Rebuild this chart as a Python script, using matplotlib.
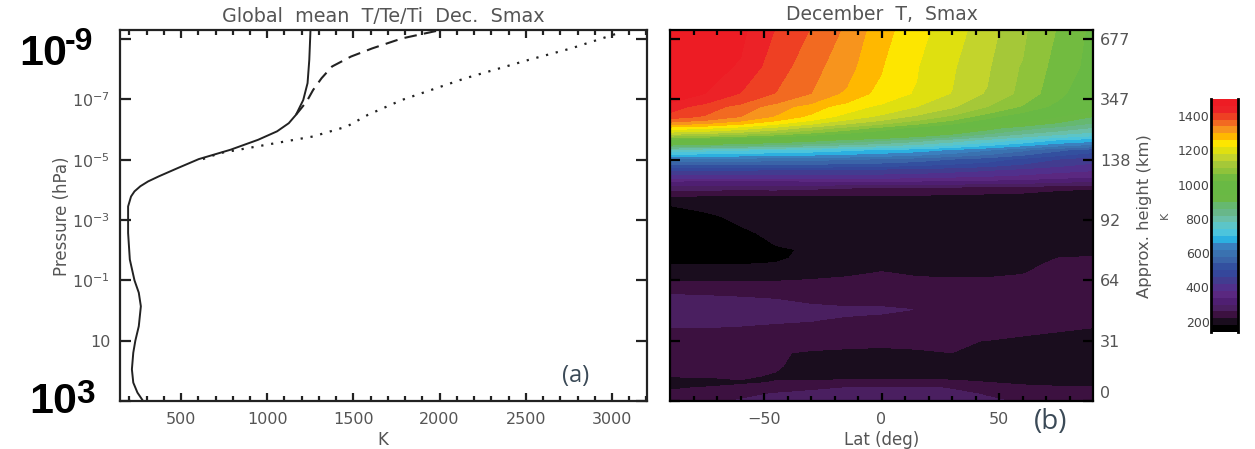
import numpy as np
import matplotlib
matplotlib.use("Agg")
import matplotlib.pyplot as plt
from matplotlib.colors import ListedColormap, BoundaryNorm
from matplotlib.cm import ScalarMappable

# ---------- panel (a) data ----------
solid_logp = [3.00, 2.72, 2.39, 1.95, 1.40, 1.00, 0.52, -0.14, -0.59, -1.00, -1.69, -2.57, -3.45, -3.78,
              -3.95, -4.12, -4.28, -4.45, -4.72, -5.02, -5.33, -5.66, -5.94, -6.21, -6.49, -6.98, -7.54,
              -8.31, -9.30]
solid_T = [280, 247, 223, 215, 223, 235, 255, 267, 255, 230, 203, 193, 193, 210,
           230, 264, 309, 372, 480, 603, 787, 947, 1057, 1125, 1167, 1209, 1234, 1244, 1251]
dashed_logp = [-6.49, -6.93, -7.31, -7.70, -8.09, -8.42, -8.69, -9.02, -9.28]
dashed_T = [1167, 1229, 1266, 1315, 1376, 1486, 1609, 1781, 1990]
dotted_logp = [-5.02, -5.22, -5.47, -5.77, -6.10, -6.49, -6.98, -7.70, -8.31, -8.69, -9.13, -9.24]
dotted_T = [627, 726, 971, 1266, 1462, 1585, 1781, 2149, 2517, 2763, 3001, 3057]

# ---------- panel (b) data ----------
lat = [-90, -75, -60, -45, -30, -15, 0, 15, 30, 45, 60, 75, 90]
level_logp = [-9.30, -8.09, -7.20, -6.76, -6.43, -6.05, -5.66, -5.33, -5.02, -4.67, -4.28, -4.06, -3.78,
              -3.48, -3.12, -2.57, -2.02, -1.74, -1.52, -1.25, -0.97, -0.53, -0.37, -0.03, 0.30, 0.57,
              1.01, 1.40, 1.84, 2.17, 2.39, 2.56, 2.78, 3.00]
T_map = [
    [1560, 1515, 1470, 1418, 1378, 1333, 1275, 1234, 1198, 1157, 1107, 1057, 1010],
    [1540, 1495, 1450, 1400, 1355, 1315, 1262, 1222, 1185, 1145, 1095, 1045, 1005],
    [1490, 1460, 1418, 1378, 1340, 1290, 1245, 1215, 1178, 1135, 1088, 1032, 985],
    [1440, 1400, 1365, 1320, 1280, 1240, 1210, 1180, 1145, 1100, 1055, 1005, 960],
    [1400, 1375, 1340, 1295, 1250, 1205, 1170, 1130, 1090, 1035, 985, 940, 900],
    [1240, 1225, 1200, 1165, 1125, 1085, 1045, 1005, 965, 915, 875, 845, 815],
    [1000, 985, 965, 945, 920, 895, 870, 840, 805, 770, 735, 700, 680],
    [770, 755, 745, 735, 725, 710, 695, 680, 655, 625, 590, 550, 520],
    [600, 600, 600, 595, 590, 585, 575, 560, 540, 520, 490, 460, 435],
    [465, 465, 465, 460, 460, 455, 450, 445, 435, 425, 410, 395, 385],
    [335, 330, 330, 330, 335, 335, 340, 335, 330, 325, 320, 310, 300],
    [275, 270, 270, 270, 265, 260, 255, 255, 245, 240, 235, 225, 222],
    [218, 215, 212, 214, 216, 215, 214, 212, 210, 208, 206, 204, 202],
    [180, 185, 190, 195, 200, 200, 200, 200, 200, 200, 200, 200, 200],
    [170, 175, 186, 195, 200, 200, 200, 200, 200, 200, 200, 200, 200],
    [165, 165, 172, 190, 198, 200, 200, 200, 200, 200, 200, 202, 202],
    [165, 165, 168, 174, 185, 198, 200, 200, 200, 200, 204, 212, 214],
    [170, 170, 172, 175, 188, 198, 200, 200, 200, 202, 208, 220, 222],
    [180, 180, 180, 183, 195, 203, 210, 206, 205, 208, 214, 225, 228],
    [205, 205, 205, 205, 208, 212, 222, 214, 212, 212, 218, 232, 235],
    [220, 220, 220, 220, 224, 232, 236, 230, 228, 228, 232, 240, 242],
    [260, 258, 255, 250, 245, 243, 240, 238, 238, 238, 238, 240, 242],
    [268, 268, 265, 260, 255, 250, 246, 242, 240, 240, 240, 240, 240],
    [272, 272, 272, 270, 268, 266, 268, 259, 245, 240, 240, 238, 238],
    [268, 268, 266, 264, 262, 256, 245, 240, 240, 238, 236, 234, 232],
    [260, 260, 258, 254, 250, 245, 240, 238, 236, 234, 230, 224, 220],
    [245, 245, 245, 240, 235, 230, 228, 226, 224, 219, 210, 205, 205],
    [238, 238, 236, 224, 215, 212, 210, 216, 220, 212, 205, 205, 205],
    [232, 232, 232, 224, 205, 205, 205, 205, 205, 205, 205, 205, 205],
    [222, 222, 226, 216, 205, 205, 205, 205, 205, 205, 205, 205, 205],
    [205, 208, 214, 222, 230, 234, 236, 236, 232, 221, 212, 210, 210],
    [216, 222, 232, 245, 254, 260, 264, 264, 258, 245, 232, 225, 225],
    [230, 236, 250, 264, 270, 272, 274, 274, 268, 258, 248, 236, 234],
    [236, 250, 264, 272, 276, 276, 278, 278, 274, 266, 256, 244, 240],
]
band_edges = list(range(140, 1501, 40))
band_colors = ["#000000", "#1a0d1e", "#3c1140", "#4a1f60", "#4f1f72", "#5a2880", "#51308c", "#423c90",
               "#35479b", "#33509f", "#3a64a8", "#3a72b0", "#3a80bf", "#2cb0e0", "#4cc4dc", "#5cc5c8",
               "#6abfa8", "#68b78a", "#66b870", "#6bb845", "#69b944", "#69b944", "#72bb40", "#8fc33a",
               "#a5c838", "#c3d42c", "#dfe010", "#fde600", "#ffb800", "#f7941d", "#f26a21", "#ee4023",
               "#ec2227", "#ed1c24"]

# ---------- tick labels ----------
left_yticks = [1e-9, 1e-7, 1e-5, 1e-3, 1e-1, 1e1, 1e3]
left_ylabels = ["", r"$10^{-7}$", r"$10^{-5}$", r"$10^{-3}$", r"$10^{-1}$", "10", ""]
height_labels = ["677", "347", "138", "92", "64", "31", "0"]
cbar_ticks = [200, 400, 600, 800, 1000, 1200, 1400]

W, H = 1255, 449
INK = "#222222"
TXT = "#555555"
LW = 1.6


def axpx(x0, y0, x1, y1):
    return fig.add_axes([x0 / W, 1 - y1 / H, (x1 - x0) / W, (y1 - y0) / H])


def txt(x, y, s, **kw):
    kw.setdefault("color", TXT)
    kw.setdefault("ha", "center")
    kw.setdefault("va", "center")
    fig.text(x / W, 1 - y / H, s, **kw)


fig = plt.figure(figsize=(W / 100, H / 100), dpi=100)
plt.rcParams["mathtext.default"] = "regular"

YLIM = (10 ** 3.0, 10 ** -9.3)

# ---- panel (a) ----
a = axpx(120, 30, 647, 401)
a.set_yscale("log")
a.plot(dotted_T, 10.0 ** np.array(dotted_logp), color=INK, lw=1.6, ls=(0, (1, 3.5)))
a.plot(dashed_T, 10.0 ** np.array(dashed_logp), color=INK, lw=1.5, ls=(0, (6, 3.5)))
a.plot(solid_T, 10.0 ** np.array(solid_logp), color=INK, lw=1.4)
a.set_xlim(146, 3203)
a.set_ylim(*YLIM)
a.set_xticks([500, 1000, 1500, 2000, 2500, 3000])
a.set_xticks(np.arange(200, 3201, 100), minor=True)
a.set_yticks(left_yticks)
a.set_yticklabels(left_ylabels)
a.yaxis.set_minor_locator(plt.NullLocator())
a.yaxis.set_minor_formatter(plt.NullFormatter())
a.tick_params(axis="x", which="major", direction="in", top=True, length=5.5, width=LW, color=INK,
              labelsize=11.5, labelcolor=TXT, pad=8)
a.tick_params(axis="x", which="minor", direction="in", top=True, length=3.5, width=LW, color=INK)
a.tick_params(axis="y", which="major", direction="in", right=True, length=8, width=LW, color=INK,
              labelsize=11.5, labelcolor=TXT, pad=7)
for s in a.spines.values():
    s.set_linewidth(LW)
    s.set_color(INK)

# ---- panel (b) ----
cmap = ListedColormap(band_colors)
cmap.set_over(band_colors[-1])
cmap.set_under(band_colors[0])
norm = BoundaryNorm(band_edges, ncolors=len(band_colors))
b = axpx(670, 30, 1093, 401)
b.set_yscale("log")
b.contourf(lat, 10.0 ** np.array(level_logp), np.array(T_map), levels=band_edges, cmap=cmap, norm=norm,
           extend="both", antialiased=False)
b.set_xlim(-90, 90)
b.set_ylim(*YLIM)
b.set_xticks([-50, 0, 50])
b.set_xticklabels(["\u221250", "0", "50"])
b.set_xticks(np.arange(-80, 90, 10), minor=True)
b.set_yticks(left_yticks)
b.set_yticklabels(height_labels)
b.yaxis.set_minor_locator(plt.NullLocator())
b.yaxis.set_minor_formatter(plt.NullFormatter())
b.yaxis.tick_right()
b.tick_params(axis="x", which="major", direction="in", top=True, length=5.5, width=LW, color="black",
              labelsize=11.5, labelcolor=TXT, pad=8)
b.tick_params(axis="x", which="minor", direction="in", top=True, length=3.5, width=LW, color="black")
b.tick_params(axis="y", which="major", direction="in", left=True, right=True, length=7, width=LW,
              color="black", labelsize=11.5, labelcolor=TXT, pad=5)
b.get_yticklabels()[-1].set_va("bottom")
for s in b.spines.values():
    s.set_linewidth(LW)
    s.set_color("black")

# ---- colour bar ----
c = axpx(1211, 99, 1238, 332)
cb = fig.colorbar(ScalarMappable(norm=norm, cmap=cmap), cax=c, ticks=cbar_ticks, spacing="proportional",
                  drawedges=False)
c.yaxis.set_ticks_position("left")
c.tick_params(axis="y", which="both", length=0, labelsize=9, labelcolor="#444444", pad=1)
c.minorticks_off()
cb.outline.set_visible(False)
c.axvline(0, color="black", lw=2, clip_on=False)
c.axvline(1, color="black", lw=2, clip_on=False)

# ---- text ----
txt(383, 16, "Global  mean  T/Te/Ti  Dec.  Smax", fontsize=13.8)
txt(882, 15, "December  T,  Smax", fontsize=13.5)
txt(383, 440, "K", fontsize=12)
txt(882, 440, "Lat (deg)", fontsize=12)
txt(62, 216, "Pressure (hPa)", fontsize=12, rotation=90)
txt(1144, 216, "Approx. height (km)", fontsize=11.8, rotation=90)
txt(1165, 215, "K", fontsize=8, rotation=90)

big = dict(family="Liberation Sans", weight="bold", color="black", va="baseline")
txt(19, 65, "10", fontsize=31, ha="left", **big)
txt(65, 50, "-9", fontsize=23, ha="left", **big)
txt(29, 413, "10", fontsize=31, ha="left", **big)
txt(76, 403, "3", fontsize=24, ha="left", **big)

txt(576, 376, "(a)", fontsize=17, family="Open Sans", color="#3b4a57")
txt(1051, 422, "(b)", fontsize=20, family="Open Sans", color="#3b4a57")

fig.savefig("out.png", dpi=100)
